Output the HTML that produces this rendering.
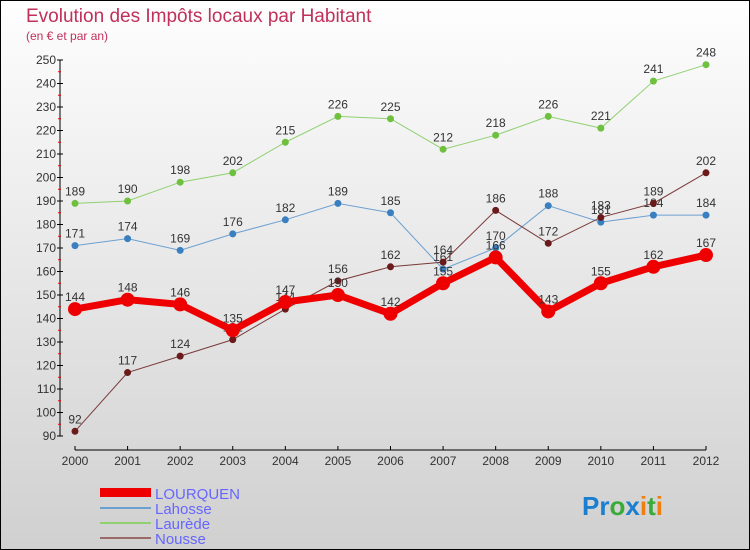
<!DOCTYPE html>
<html><head><meta charset="utf-8"><style>
body{margin:0}
#c{width:750px;height:550px;position:relative;box-sizing:border-box;border:1px solid #000;background:linear-gradient(#fefefe,#d0d0d0);font-family:"Liberation Sans",sans-serif;overflow:hidden}
</style></head><body>
<div id="c">
<svg id="s" width="748" height="548" viewBox="1 1 748 548" xmlns="http://www.w3.org/2000/svg">
<text x="26" y="22" font-size="19" fill="#c0305a">Evolution des Impôts locaux par Habitant</text>
<text x="26" y="40" font-size="12" fill="#c0305a">(en € et par an)</text>
<g id="axes"></g><g id="series"></g>
<g>
<rect x="100" y="488" width="51" height="9" fill="#e00"/>
<text x="155" y="499" font-size="15" fill="#6666ff">LOURQUEN</text>
<line x1="100" y1="508" x2="151" y2="508" stroke="#6ca0d0" stroke-width="2"/>
<text x="155" y="514" font-size="15" fill="#6666ff">Lahosse</text>
<line x1="100" y1="523" x2="151" y2="523" stroke="#90d070" stroke-width="2"/>
<text x="155" y="529" font-size="15" fill="#6666ff">Laurède</text>
<line x1="100" y1="538" x2="151" y2="538" stroke="#9a6a6a" stroke-width="2"/>
<text x="155" y="544" font-size="15" fill="#6666ff">Nousse</text>
</g>
<text x="582" y="515" font-size="26" font-weight="bold"><tspan fill="#1a7fd0">Pr</tspan><tspan fill="#3aaa3a">o</tspan><tspan fill="#1a7fd0">x</tspan><tspan fill="#f07f10">i</tspan><tspan fill="#3aaa3a">t</tspan><tspan fill="#f07f10">i</tspan></text>
</svg></div>
<script>
const years=[2000,2001,2002,2003,2004,2005,2006,2007,2008,2009,2010,2011,2012];
const lourquen=[144,148,146,135,147,150,142,155,166,143,155,162,167];
const lahosse=[171,174,169,176,182,189,185,161,170,188,181,184,184];
const laurede=[189,190,198,202,215,226,225,212,218,226,221,241,248];
const nousse=[92,117,124,131,144,156,162,164,186,172,183,189,202];
const yTicks=[90,100,110,120,130,140,150,160,170,180,190,200,210,220,230,240,250];
const NS="http://www.w3.org/2000/svg";
const X=i=>75+i*(706-75)/(years.length-1);
const Y=v=>436-(v-90)*(436-60)/160;
function mk(t,a,p){const e=document.createElementNS(NS,t);for(const k in a)e.setAttribute(k,a[k]);p.appendChild(e);return e;}
const ax=document.getElementById('axes');
let l=mk('line',{x1:60,y1:Y(250),x2:60,y2:Y(90),stroke:'#000'},ax);


l=mk('line',{x1:75,y1:450,x2:706,y2:450,stroke:'#000'},ax);


yTicks.forEach((v,i)=>{
  mk('line',{x1:57,y1:Y(v),x2:63,y2:Y(v),stroke:'#000'},ax);
  if(i<yTicks.length-1)mk('line',{x1:58,y1:Y(v+5),x2:61,y2:Y(v+5),stroke:'#e00'},ax);
  const t=mk('text',{x:56,y:Y(v)+4,'font-size':12,'text-anchor':'end',fill:'#333'},ax);t.textContent=v;
  
  
});
years.forEach((y,i)=>{
  mk('line',{x1:X(i),y1:446,x2:X(i),y2:450,stroke:'#000'},ax);
  const t=mk('text',{x:X(i),y:465,'font-size':12,'text-anchor':'middle',fill:'#333'},ax);t.textContent=y;
  
  
});
const sg=document.getElementById('series');
function draw(name,vals,col,dot,w,r){
  const g=mk('g',{},sg);
  
  
  mk('polyline',{points:vals.map((v,i)=>X(i)+','+Y(v)).join(' '),fill:'none',stroke:col,'stroke-width':w},g);
  vals.forEach((v,i)=>{
    const c=mk('circle',{cx:X(i),cy:Y(v),r:r,fill:dot},g);
    
    
    const t=mk('text',{x:X(i),y:Y(v)-8,'font-size':12,'text-anchor':'middle',fill:'#333'},g);t.textContent=v;
    
    
  });
}
draw('laurede',laurede,'#90d070','#70c040',1,3.5);
draw('lahosse',lahosse,'#6ca0d0','#3a80c0',1,3.5);
draw('nousse',nousse,'#7a3a3a','#6a1a1a',1,3.5);
draw('lourquen',lourquen,'#e00','#e00',7,7);
</script>
</body></html>
